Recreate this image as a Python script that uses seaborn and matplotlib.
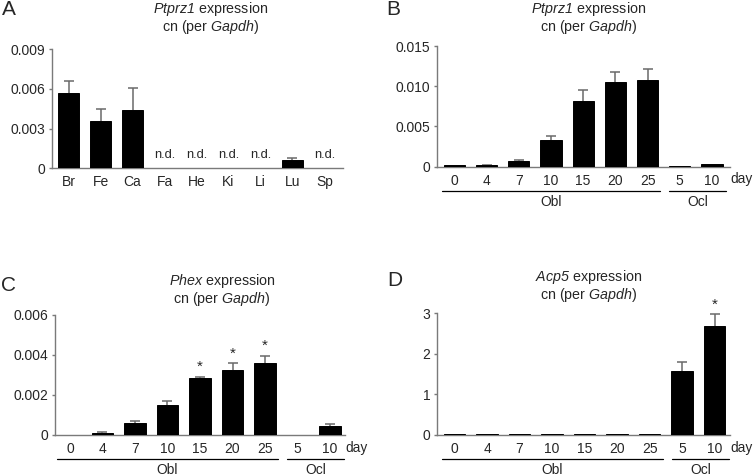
import numpy as np
import pandas as pd
import matplotlib
matplotlib.use("Agg")
import matplotlib.pyplot as plt
import seaborn as sns
from matplotlib.transforms import blended_transform_factory

# ---------------- data ----------------
tissues = ["Br", "Fe", "Ca", "Fa", "He", "Ki", "Li", "Lu", "Sp"]
a_mean = [0.0057, 0.0036, 0.0044, 0, 0, 0, 0, 0.00062, 0]
a_top = [0.0066, 0.00447, 0.00607, 0, 0, 0, 0, 0.00075, 0]
a_nd = [False, False, False, True, True, True, True, False, True]

days = ["0", "4", "7", "10", "15", "20", "25", "5", "10"]
groups = ["Obl"] * 7 + ["Ocl"] * 2

b_mean = [0.00018, 0.0002, 0.00068, 0.0033, 0.0082, 0.01053, 0.01074, 0.00004, 0.0003]
b_top = [0.00018, 0.00024, 0.0008, 0.0038, 0.0095, 0.0118, 0.0122, 0.00004, 0.0003]

c_mean = [0.00002, 0.00012, 0.0006, 0.0015, 0.00286, 0.00324, 0.00358, 0.00002, 0.00044]
c_top = [0.00002, 0.00013, 0.0007, 0.0017, 0.0029, 0.00358, 0.00396, 0.00002, 0.00053]
c_star = [False, False, False, False, True, True, True, False, False]

d_mean = [0.015] * 7 + [1.57, 2.69]
d_top = [0.015] * 7 + [1.81, 2.98]
d_star = [False] * 8 + [True]

ptprz_title = ("$Ptprz1$ expression", "cn (per $Gapdh$)")
phex_title = ("$Phex$ expression", "cn (per $Gapdh$)")
acp5_title = ("$Acp5$ expression", "cn (per $Gapdh$)")

a_ticks = [0, 0.003, 0.006, 0.009]
a_ticklabels = ["0", "0.003", "0.006", "0.009"]
b_ticks = [0, 0.005, 0.010, 0.015]
b_ticklabels = ["0", "0.005", "0.010", "0.015"]
c_ticks = [0, 0.002, 0.004, 0.006]
c_ticklabels = ["0", "0.002", "0.004", "0.006"]
d_ticks = [0, 1, 2, 3]
d_ticklabels = ["0", "1", "2", "3"]

# ---------------- style ----------------
sns.set_style("white")
plt.rcParams["font.family"] = ["Liberation Sans", "DejaVu Sans"]
plt.rcParams["mathtext.fontset"] = "custom"
plt.rcParams["mathtext.rm"] = "Liberation Sans:italic"
plt.rcParams["mathtext.it"] = "Liberation Sans:italic"
plt.rcParams["mathtext.default"] = "rm"

W, H = 754, 476
fig = plt.figure(figsize=(W / 100, H / 100), dpi=100)
SPINE = "#7a7a7a"
ERR = "#6a6a6a"


def make_axes(left, right, top, bottom):
    return fig.add_axes([left / W, (H - bottom) / H, (right - left) / W, (bottom - top) / H])


def draw_panel(ax, labels, mean, top, ticks, ticklabels, xlim):
    keys = [f"k{i}" for i in range(len(labels))]
    df = pd.DataFrame({"key": keys, "value": mean})
    sns.barplot(data=df, x="key", y="value", order=keys, color="black",
                saturation=1, width=0.66, errorbar=None, ax=ax, zorder=3,
                edgecolor="black", linewidth=0.7)
    idx = [i for i in range(len(mean)) if top[i] > mean[i]]
    if idx:
        xs = np.array(idx)
        m = np.array([mean[i] for i in idx])
        t = np.array([top[i] for i in idx])
        _, caps, _ = ax.errorbar(xs, m, yerr=[np.zeros_like(m), t - m], fmt="none",
                                 ecolor=ERR, elinewidth=1.1, capsize=3.6, capthick=1.1, zorder=2)
        caps[0].set_visible(False)
    ax.set_xlim(*xlim)
    ax.set_ylim(ticks[0], ticks[-1])
    ax.set_yticks(ticks)
    ax.set_yticklabels(ticklabels)
    ax.set_xticks(range(len(labels)))
    ax.set_xticklabels(labels)
    ax.set_xlabel("")
    ax.set_ylabel("")
    for s in ["top", "right"]:
        ax.spines[s].set_visible(False)
    for s in ["left", "bottom"]:
        ax.spines[s].set_color(SPINE)
        ax.spines[s].set_linewidth(1.0)
    ax.tick_params(axis="y", left=True, length=2.3, width=1, color=SPINE, pad=2.5, labelsize=10)
    ax.tick_params(axis="x", bottom=False, length=0, pad=5, labelsize=10)
    ax.patch.set_alpha(0)


def day_groups(ax, px_h):
    tr = blended_transform_factory(ax.transData, ax.transAxes)
    yl = -24 / px_h
    ax.plot([-0.4, 6.4], [yl, yl], color="black", lw=0.9, transform=tr, clip_on=False)
    ax.plot([6.68, 8.43], [yl, yl], color="black", lw=0.9, transform=tr, clip_on=False)
    yt = -35.5 / px_h
    ax.text(3.0, yt, "Obl", transform=tr, ha="center", va="center", fontsize=10)
    ax.text(7.56, yt, "Ocl", transform=tr, ha="center", va="center", fontsize=10)
    ax.annotate("day", xy=(1, 0), xycoords="axes fraction", xytext=(0.3, -12.8 * 0.72),
                textcoords="offset points", ha="left", va="center", fontsize=9.8)


def titles(xc, y1, y2, lines):
    fig.text(xc / W, 1 - y1 / H, lines[0], ha="center", va="center", fontsize=10.3)
    fig.text(xc / W, 1 - y2 / H, lines[1], ha="center", va="center", fontsize=10.3)


def stars(ax, top, flags):
    for i, f in enumerate(flags):
        if f:
            ax.annotate("*", xy=(i, top[i]), xytext=(0, 2), textcoords="offset points",
                        ha="center", va="bottom", fontsize=11)


# Panel A
axA = make_axes(52, 343, 49, 168.3)
draw_panel(axA, tissues, a_mean, a_top, a_ticks, a_ticklabels, (-0.52, 8.58))
for i, nd in enumerate(a_nd):
    if nd:
        axA.text(i, 0.001, "n.d.", ha="center", va="center", fontsize=9.3)
titles(211, 9, 27.5, ptprz_title)

# Panel B
axB = make_axes(437, 730, 46, 166.7)
draw_panel(axB, days, b_mean, b_top, b_ticks, b_ticklabels, (-0.54, 8.56))
day_groups(axB, 120.7)
titles(589, 9, 27.5, ptprz_title)

# Panel C
axC = make_axes(55, 345, 315, 435)
draw_panel(axC, days, c_mean, c_top, c_ticks, c_ticklabels, (-0.46, 8.46))
day_groups(axC, 120)
stars(axC, c_top, c_star)
titles(222, 281, 299, phex_title)

# Panel D
axD = make_axes(437, 730, 313.3, 435)
draw_panel(axD, days, d_mean, d_top, d_ticks, d_ticklabels, (-0.54, 8.47))
day_groups(axD, 121.7)
stars(axD, d_top, d_star)
titles(589, 276.5, 294.5, acp5_title)

# Panel letters
for lbl, x, y in [("A", 8.5, 9.5), ("B", 393, 9.5), ("C", 8.5, 285.5), ("D", 394.5, 280.5)]:
    fig.text(x / W, 1 - y / H, lbl, ha="center", va="center", fontsize=15)

fig.savefig("out.png", dpi=100)
